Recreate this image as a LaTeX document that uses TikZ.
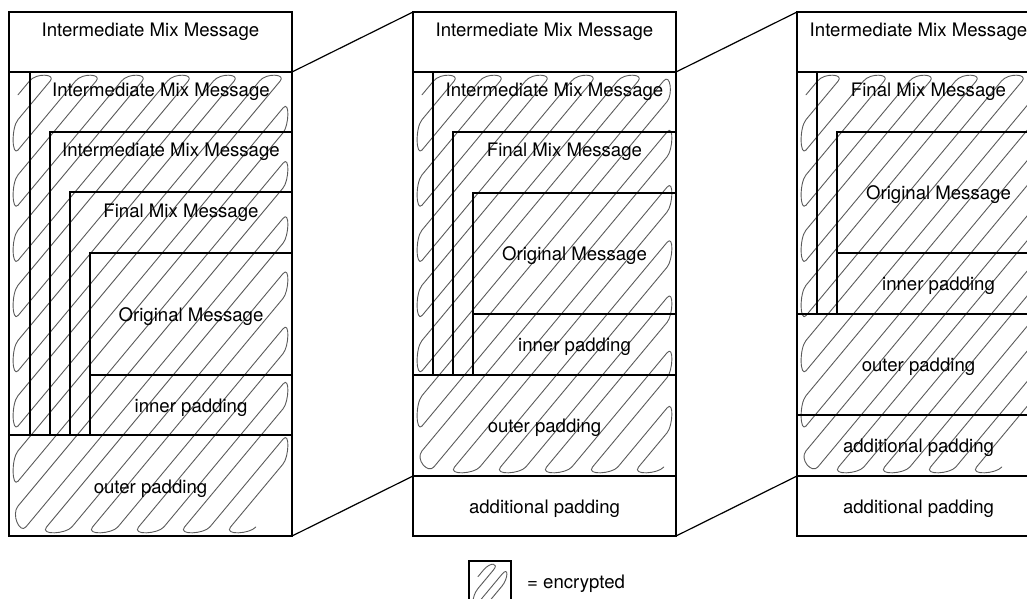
\documentclass[tikz,border=0pt]{standalone}
\usepackage{fontspec}
\setmainfont{TeX Gyre Heros}
\definecolor{scrgray}{HTML}{5A5A5A}
\tikzset{
  boxline/.style={draw=black, line width=1.2pt},
  lbl/.style={font=\fontsize{18.6}{22}\selectfont, anchor=base, inner sep=0pt, text=black},
  scr/.style={draw=scrgray, line width=0.9pt, line cap=round, line join=round},
  conn/.style={draw=black, line width=1.2pt},
}
\newcommand\scrib[5]{%
  \pgfmathsetmacro\sxa{#1+9}\pgfmathsetmacro\sya{#2+9}%
  \pgfmathsetmacro\sxb{#3-9}\pgfmathsetmacro\syb{#4-9}%
  \pgfmathsetmacro\cs{\sxa+\sya/1.2}%
  \pgfmathsetmacro\ce{\sxb+\syb/1.2}%
  \pgfmathtruncatemacro\nn{(\ce-\cs)/#5-1.3}%
  \foreach \k in {0,...,\nn}{%
    \pgfmathsetmacro\ca{\cs+(\k+0.25)*#5}%
    \pgfmathsetmacro\cb{\ca+0.45*#5}%
    \pgfmathsetmacro\cc{\ca+#5}%
    \pgfmathsetmacro\lya{min(\syb,1.2*(\ca-\sxa))}\pgfmathsetmacro\lxa{\ca-\lya/1.2}%
    \pgfmathsetmacro\uya{max(\sya,1.2*(\ca-\sxb))}\pgfmathsetmacro\uxa{\ca-\uya/1.2}%
    \pgfmathsetmacro\lyb{min(\syb,1.2*(\cb-\sxa))}\pgfmathsetmacro\lxb{\cb-\lyb/1.2}%
    \pgfmathsetmacro\uyb{max(\sya,1.2*(\cb-\sxb))}\pgfmathsetmacro\uxb{\cb-\uyb/1.2}%
    \pgfmathsetmacro\lyc{min(\syb,1.2*(\cc-\sxa))}\pgfmathsetmacro\lxc{\cc-\lyc/1.2}%
    \draw[scr] (\lxa,\lya) -- (\uxa,\uya) .. controls +(7,-8.5) and +(6,-7) .. (\uxb,\uyb)
      -- (\lxb,\lyb) .. controls +(-7,8.5) and +(-6,7) .. (\lxc,\lyc);
  }%
}
\begin{document}
\begin{tikzpicture}[x=1pt,y=-1pt]
\useasboundingbox (0,0) rectangle (1027,598);
\clip (0,0) rectangle (1027,598);

% ---------- scribbles (encrypted areas) ----------
\scrib{9}{72}{292}{536}{46}
\scrib{413}{72}{676}{476}{46}
\scrib{797}{72}{1040}{476}{46}
\scrib{469}{561}{511}{612}{22}

% ---------- box 1 ----------
\coordinate (b1tl) at (9,12);
\coordinate (b1tr) at (292,72);
\coordinate (b1br) at (292,536);
\draw[boxline] (9,12) rectangle (292,536);
\draw[boxline] (9,72) -- (292,72);
\draw[boxline] (30,72) -- (30,435);
\draw[boxline] (50,435) -- (50,132) -- (292,132);
\draw[boxline] (70,435) -- (70,192) -- (292,192);
\draw[boxline] (90,435) -- (90,253) -- (292,253);
\draw[boxline] (90,375) -- (292,375);
\draw[boxline] (9,435) -- (292,435);

\node[lbl] (t1a) at (150.5,36) {Intermediate Mix Message};
\node[lbl] (t1b) at (161,96) {Intermediate Mix Message};
\node[lbl] (t1c) at (171,156) {Intermediate Mix Message};
\node[lbl] (t1d) at (181,217) {Final Mix Message};
\node[lbl] (t1e) at (191,321) {Original Message};
\node[lbl] (t1f) at (191,412) {inner padding};
\node[lbl] (t1g) at (150.5,493) {outer padding};

% ---------- box 2 ----------
\coordinate (b2tl) at (413,12);
\coordinate (b2bl) at (413,476);
\coordinate (b2tr) at (676,72);
\coordinate (b2br) at (676,536);
\draw[boxline] (413,12) rectangle (676,536);
\draw[boxline] (413,72) -- (676,72);
\draw[boxline] (433,72) -- (433,375);
\draw[boxline] (453,375) -- (453,132) -- (676,132);
\draw[boxline] (473,375) -- (473,193) -- (676,193);
\draw[boxline] (473,314) -- (676,314);
\draw[boxline] (413,375) -- (676,375);
\draw[boxline] (413,476) -- (676,476);

\node[lbl] (t2a) at (544.5,36) {Intermediate Mix Message};
\node[lbl] (t2b) at (554.5,96) {Intermediate Mix Message};
\node[lbl] (t2c) at (564.5,156) {Final Mix Message};
\node[lbl] (t2d) at (574.5,260) {Original Message};
\node[lbl] (t2e) at (574.5,351.5) {inner padding};
\node[lbl] (t2f) at (544.5,432.5) {outer padding};
\node[lbl] (t2g) at (544.5,513) {additional padding};

% ---------- box 3 ----------
\coordinate (b3tl) at (797,12);
\coordinate (b3bl) at (797,476);
\draw[boxline] (797,12) rectangle (1040,536);
\draw[boxline] (797,72) -- (1040,72);
\draw[boxline] (817,72) -- (817,314);
\draw[boxline] (837,314) -- (837,132) -- (1040,132);
\draw[boxline] (837,253) -- (1040,253);
\draw[boxline] (797,314) -- (1040,314);
\draw[boxline] (797,415) -- (1040,415);
\draw[boxline] (797,476) -- (1040,476);

\node[lbl] (t3a) at (918.5,36) {Intermediate Mix Message};
\node[lbl] (t3b) at (928.5,96) {Final Mix Message};
\node[lbl] (t3c) at (938.5,199.5) {Original Message};
\node[lbl] (t3d) at (938.5,290.5) {inner padding};
\node[lbl] (t3e) at (918.5,371.5) {outer padding};
\node[lbl] (t3f) at (918.5,452.5) {additional padding};
\node[lbl] (t3g) at (918.5,513) {additional padding};

% ---------- connectors ----------
\draw[conn] (b1tr) -- (b2tl);
\draw[conn] (b1br) -- (b2bl);
\draw[conn] (b2tr) -- (b3tl);
\draw[conn] (b2br) -- (b3bl);

% ---------- legend ----------
\draw[boxline] (469,561) rectangle (511,612);
\node[lbl, anchor=base west] (leg) at (527,588) {= encrypted};
\end{tikzpicture}
\end{document}
